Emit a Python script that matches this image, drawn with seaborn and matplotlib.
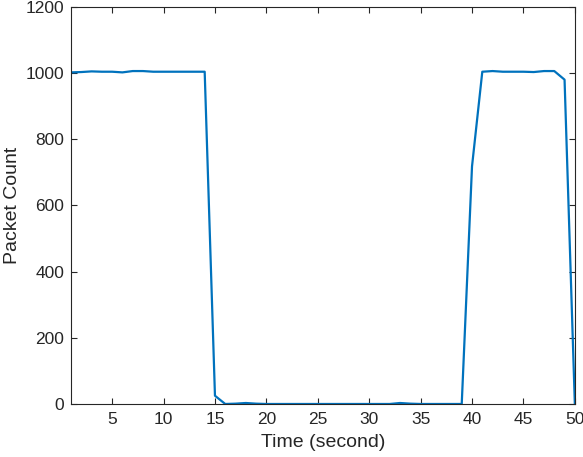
import numpy as np
import pandas as pd
import seaborn as sns
import matplotlib.pyplot as plt

# time axis (seconds) and packet counts
time_sec = list(range(1, 51))
packet_count = [1002, 1003, 1005, 1004, 1004, 1002, 1006, 1006, 1004, 1004,
                1004, 1004, 1004, 1004, 25, 0, 1, 3, 1, 0,
                0, 0, 0, 0, 0, 0, 0, 0, 0, 0,
                0, 0, 3, 1, 0, 0, 0, 0, 0, 718,
                1004, 1006, 1004, 1004, 1004, 1003, 1006, 1006, 980, 0]
x_ticks = [5, 10, 15, 20, 25, 30, 35, 40, 45, 50]
y_ticks = [0, 200, 400, 600, 800, 1000, 1200]

df = pd.DataFrame({"time": time_sec, "count": packet_count})

sns.set_style("white")
plt.rcParams['font.family'] = ['Liberation Sans', 'DejaVu Sans']

fig = plt.figure(figsize=(5.83, 4.57), dpi=100)
ax = fig.add_axes([0.1218, 0.116, 0.8642, 0.869])

sns.lineplot(data=df, x="time", y="count", color="#0072BD", linewidth=1.6, ax=ax)

ax.set_xlim(1, 50)
ax.set_ylim(0, 1200)
ax.set_xticks(x_ticks)
ax.set_yticks(y_ticks)
ax.set_xlabel("Time (second)", fontsize=14, color="#262626", labelpad=5)
ax.set_ylabel("Packet Count", fontsize=14, color="#262626")
ax.yaxis.set_label_coords(-0.100, 0.5)

for s in ax.spines.values():
    s.set_color("#262626")
    s.set_linewidth(0.8)
ax.tick_params(direction="in", length=4.5, width=0.8, colors="#262626",
               labelsize=12.5, top=True, right=True, bottom=True, left=True)
ax.tick_params(axis="x", pad=6)
ax.tick_params(axis="y", pad=5)

plt.savefig("out.png", dpi=100)
plt.close()
